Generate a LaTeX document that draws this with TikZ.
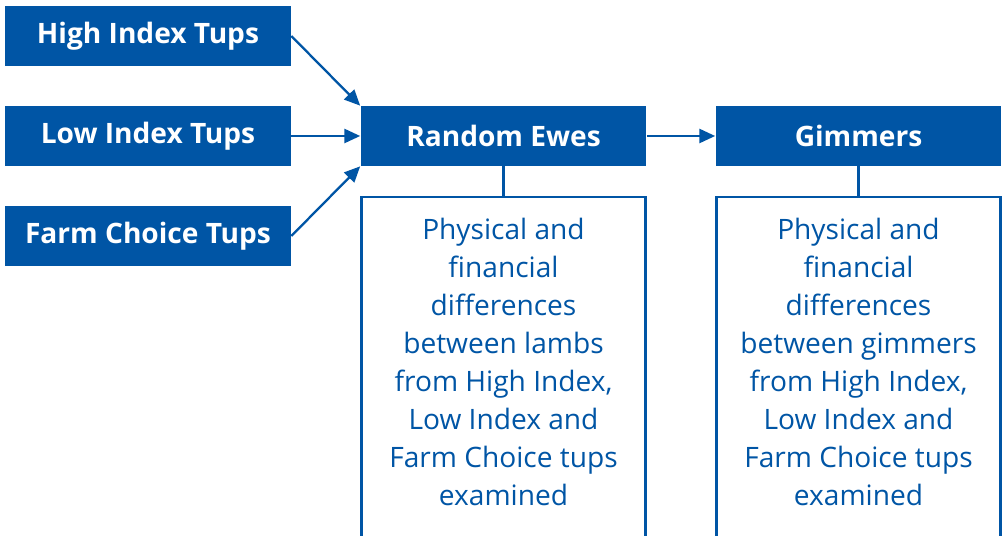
\documentclass[tikz,border=0pt]{standalone}
\usepackage{fontspec}
\setmainfont{Open Sans}
\usetikzlibrary{arrows.meta}

\definecolor{trialblue}{RGB}{0,85,165}

\tikzset{
  headbox/.style={fill=trialblue,text=white,font=\fontsize{16}{20}\selectfont\bfseries,
    minimum width=5.72cm,minimum height=1.2cm,inner sep=0pt},
  notebox/.style={draw=trialblue,line width=1.3pt,minimum width=5.68cm,minimum height=7.4cm,
    anchor=north,inner sep=0pt},
  notetext/.style={text=trialblue,font=\fontsize{16}{21.6}\selectfont,align=center,
    anchor=north,inner sep=0pt},
  feed/.style={draw=trialblue,line width=1.3pt,-{Triangle[length=9pt,width=8pt]}},
}

\begin{document}
\begin{tikzpicture}[x=0.02cm,y=-0.02cm]
\useasboundingbox (0,0) rectangle (1006,536);
\clip (0,0) rectangle (1006,536);

% sires on the left
\node[headbox] (high) at (148,36) {High Index Tups};
\node[headbox] (low) at (148,136) {Low Index Tups};
\node[headbox] (farm) at (148,236) {Farm Choice Tups};

% ewe flock and the gimmers kept from it
\node[headbox] (ewes) at (503.5,136) {Random Ewes};
\node[headbox] (gimmers) at (858.5,136) {Gimmers};

% what is measured under each
\node[notebox] (lambbox) at (503.5,196) {};
\node[notebox] (gimmerbox) at (858.5,196) {};
\node[notetext] (lambtext) at (503.5,218) {Physical and\\financial\\differences\\between lambs\\from High Index,\\Low Index and\\Farm Choice tups\\examined};
\node[notetext] (gimmertext) at (858.5,218) {Physical and\\financial\\differences\\between gimmers\\from High Index,\\Low Index and\\Farm Choice tups\\examined};

\draw[feed] (high.east) -- (ewes.north west);
\draw[feed] (low.east) -- (ewes.west);
\draw[feed] (farm.east) -- (ewes.south west);
\draw[feed] (ewes.east) -- (gimmers.west);

\draw[draw=trialblue,line width=1.3pt] (ewes.south) -- (lambbox.north);
\draw[draw=trialblue,line width=1.3pt] (gimmers.south) -- (gimmerbox.north);
\end{tikzpicture}
\end{document}
